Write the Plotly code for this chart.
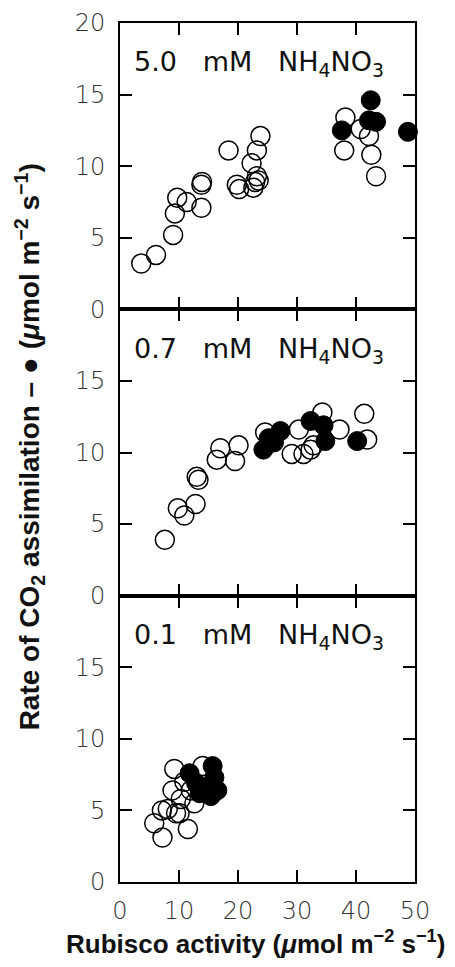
import plotly.graph_objects as go
from plotly.subplots import make_subplots

# Panel 1: 5.0 mM
p1_open_x = [3.6, 6.1, 9.0, 9.3, 9.7, 11.3, 13.8, 13.8, 13.9, 18.4, 19.8, 20.2, 22.6, 22.9, 23.2, 22.3, 23.2, 23.8, 23.5, 38.2, 38.0, 40.8, 42.2, 42.6, 43.4]
p1_open_y = [3.2, 3.8, 5.2, 6.7, 7.8, 7.5, 7.1, 8.7, 8.9, 11.1, 8.7, 8.4, 8.5, 8.9, 9.3, 10.2, 11.1, 12.1, 9.0, 13.4, 11.1, 12.6, 12.1, 10.8, 9.3]
p1_fill_x = [37.6, 42.5, 42.2, 43.4, 48.8]
p1_fill_y = [12.5, 14.6, 13.2, 13.1, 12.4]

# Panel 2: 0.7 mM
p2_open_x = [7.6, 9.8, 10.9, 12.8, 13.0, 13.3, 16.4, 17.0, 19.5, 20.1, 24.6, 30.3, 29.1, 31.1, 32.8, 34.3, 37.2, 41.4, 41.9, 32.3]
p2_open_y = [3.9, 6.1, 5.6, 6.4, 8.3, 8.1, 9.5, 10.3, 9.4, 10.5, 11.4, 11.6, 9.9, 9.9, 10.5, 12.8, 11.6, 12.7, 10.9, 10.2]
p2_fill_x = [24.3, 25.2, 27.2, 32.3, 34.5, 34.8, 40.2, 26.1]
p2_fill_y = [10.2, 11.0, 11.5, 12.2, 11.9, 10.8, 10.8, 10.7]

# Panel 3: 0.1 mM
p3_open_x = [5.8, 7.2, 7.1, 8.1, 9.2, 8.9, 9.5, 11.5, 10.3, 10.9, 12.6, 12.0, 14.0, 10.1]
p3_open_y = [4.1, 3.1, 5.0, 5.1, 7.9, 6.4, 4.8, 3.7, 5.8, 7.0, 5.5, 6.4, 8.1, 4.8]
p3_fill_x = [11.8, 12.9, 15.7, 16.0, 16.5, 14.6, 15.4, 13.5]
p3_fill_y = [7.6, 6.9, 8.1, 7.3, 6.4, 6.6, 6.0, 6.2]

panel_labels = [c + "&nbsp;&nbsp;&nbsp;mM&nbsp;&nbsp;&nbsp;NH<sub>4</sub>NO<sub>3</sub>"
                for c in ["5.0", "0.7", "0.1"]]
x_ticks = [0, 10, 20, 30, 40, 50]

fig = make_subplots(rows=3, cols=1, shared_xaxes=True, vertical_spacing=0)

data = [(p1_open_x, p1_open_y, p1_fill_x, p1_fill_y),
        (p2_open_x, p2_open_y, p2_fill_x, p2_fill_y),
        (p3_open_x, p3_open_y, p3_fill_x, p3_fill_y)]

for i, (ox, oy, fx, fy) in enumerate(data, start=1):
    fig.add_trace(go.Scatter(x=ox, y=oy, mode="markers",
                             marker=dict(symbol="circle-open", size=19, color="black",
                                         line=dict(width=1.5, color="black")),
                             showlegend=False, cliponaxis=False), row=i, col=1)
    fig.add_trace(go.Scatter(x=fx, y=fy, mode="markers",
                             marker=dict(symbol="circle", size=19, color="black",
                                         line=dict(width=1, color="black")),
                             showlegend=False, cliponaxis=False), row=i, col=1)

tickfont = dict(family="DejaVu Sans", size=24, color="#333", weight=200)
for i in range(1, 4):
    fig.update_yaxes(range=[0, 20],
                     tickvals=[0, 5, 10, 15, 20] if i == 1 else [0, 5, 10, 15],
                     ticks="inside", ticklen=12, tickwidth=1.5, tickcolor="black",
                     showline=True, linecolor="black", linewidth=2, mirror="ticks",
                     showgrid=False, zeroline=False, tickfont=tickfont, automargin=False,
                     ticklabelstandoff=8,
                     row=i, col=1)
    fig.update_xaxes(range=[0, 50], tickvals=x_ticks,
                     ticks="inside", ticklen=12, tickwidth=1.5, tickcolor="black",
                     showline=True, linecolor="black", linewidth=2, mirror="ticks",
                     showgrid=False, zeroline=False, tickfont=tickfont, automargin=False,
                     ticklabelstandoff=6,
                     row=i, col=1)

axis_names = ["y", "y2", "y3"]
xnames = ["x", "x2", "x3"]
for i, lab in enumerate(panel_labels):
    fig.add_annotation(text=lab, xref=xnames[i] + " domain", yref=axis_names[i] + " domain",
                       x=0.04, y=0.857, xanchor="left", yanchor="middle", showarrow=False,
                       font=dict(family="DejaVu Sans", size=27, color="#111"))

fig.add_annotation(text="Rubisco activity (<i>μ</i>mol m<sup>−2</sup> s<sup>−1</sup>)",
                   xref="paper", yref="paper", x=0.461, y=-0.071, xanchor="center",
                   yanchor="middle", showarrow=False,
                   font=dict(family="Liberation Sans, Arial", size=26, color="#111", weight="bold"))
fig.add_annotation(text="Rate of CO<sub>2</sub> assimilation – ● (<i>μ</i>mol m<sup>−2</sup> s<sup>−1</sup>)",
                   xref="paper", yref="paper", x=-0.305, y=0.506, xanchor="center",
                   yanchor="middle", textangle=-90, showarrow=False,
                   font=dict(family="Liberation Sans, Arial", size=28, color="#111", weight="bold"))

fig.update_layout(width=439, height=951, plot_bgcolor="white", paper_bgcolor="white",
                  margin=dict(l=112, r=32, t=15, b=77, autoexpand=False))

fig.write_html("out.html")
